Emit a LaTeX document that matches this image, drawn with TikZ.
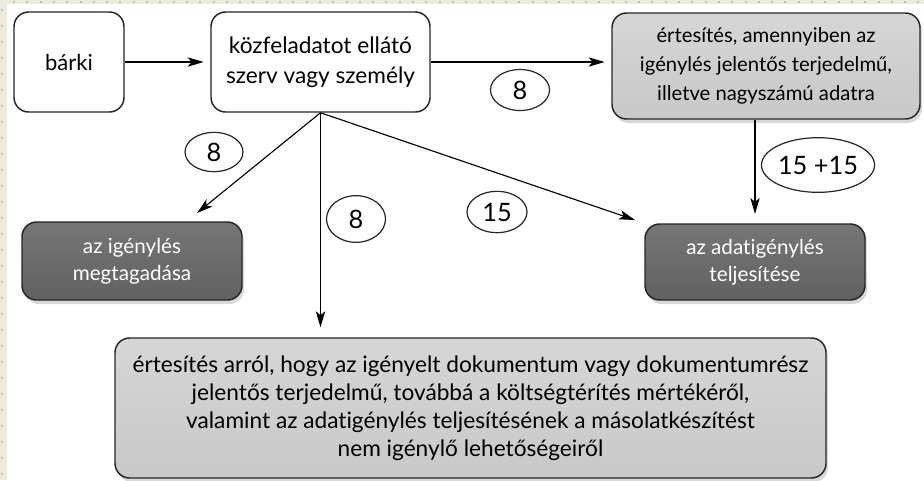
\documentclass[tikz,border=0pt]{standalone}
\usepackage{fontspec}
\setmainfont{Lato}[Ligatures={NoCommon}]
\usetikzlibrary{arrows.meta,shapes.geometric,shadows,calc}
\definecolor{bgbeige}{HTML}{EDEADF}
\definecolor{dotc}{HTML}{C8C0A2}
\definecolor{lighttop}{HTML}{D6D6D6}
\definecolor{lightbot}{HTML}{C8C8C8}
\definecolor{darktop}{HTML}{767676}
\definecolor{darkbot}{HTML}{616161}
\begin{document}
\begin{tikzpicture}[x=0.75pt,y=-0.75pt,
  box/.style={draw=black!85, line width=1.1pt, rounded corners=11pt, align=center, inner sep=0pt, font=\fontsize{15.5}{20}\selectfont},
  whitebox/.style={box, fill=white},
  lightbox/.style={box, top color=lighttop, bottom color=lightbot, drop shadow={opacity=0.3, shadow xshift=1.5pt, shadow yshift=-3pt}},
  darkbox/.style={box, top color=darktop, bottom color=darkbot, text=white, drop shadow={opacity=0.3, shadow xshift=1.5pt, shadow yshift=-3pt}},
  num/.style={ellipse, draw=black!85, fill=white, line width=0.9pt, inner sep=0pt, font=\fontsize{19}{20}\selectfont},
  arr/.style={-{Stealth[length=12pt,width=7pt,inset=3pt]}, line width=0.85pt}]
\useasboundingbox (0,0) rectangle (924,480);
\fill[bgbeige] (0,0) rectangle (924,480);
\foreach \i in {0,...,68} \fill[dotc] (14+13.3*\i-1,1) rectangle ++(2,2);
\foreach \j in {0,...,29} \fill[dotc] (1,10+16*\j-1) rectangle ++(2,2);
\fill[white] (7,4) rectangle (924,480);

\node[whitebox, minimum width=82.5pt, minimum height=75pt, font=\fontsize{16.5}{20}\selectfont] (barki) at (69,62) {bárki};
\node[whitebox, minimum width=164.25pt, minimum height=75pt, font=\fontsize{17}{22.5}\selectfont] (kozf) at (320.5,62) {közfeladatot ellátó\\szerv vagy személy};
\node[lightbox, minimum width=231pt, minimum height=79.5pt, font=\fontsize{15.2}{21.5}\selectfont] (ert) at (766,66) {értesítés, amennyiben az\\igénylés jelentős terjedelmű,\\illetve nagyszámú adatra};
\node[darkbox, minimum width=165pt, minimum height=57pt] (telj) at (755,262) {az adatigénylés\\teljesítése};
\node[darkbox, minimum width=165pt, minimum height=58.5pt] (megt) at (132,261) {az igénylés\\megtagadása};
\node[lightbox, minimum width=533.25pt, minimum height=105pt, font=\fontsize{17}{21}\selectfont] (bot) at (470.5,408) {értesítés arról, hogy az igényelt dokumentum vagy dokumentumrész\\jelentős terjedelmű, továbbá a költségtérítés mértékéről,\\valamint az adatigénylés teljesítésének a másolatkészítést\\nem igénylő lehetőségeiről};

\coordinate (tipA) at (197,213);
\coordinate (tipB) at (635,220);
\draw[arr, shorten >=5pt] (barki) -- (kozf);
\draw[arr, shorten >=5pt] (kozf.east) -- (kozf.east -| ert.west);
\draw[arr] (kozf.south) -- (tipA);
\draw[arr, shorten >=7.5pt] (kozf.south) -- (kozf.south |- bot.north);
\draw[arr] (kozf.south) -- (tipB);
\draw[arr, shorten >=7pt] (ert.south -| telj.north) -- (telj.north);

\node[num, minimum width=44.25pt, minimum height=30.75pt] (n1) at (520,90) {8};
\node[num, minimum width=72pt, minimum height=41pt] (n2) at (818,165) {15 +15};
\node[num, minimum width=43.5pt, minimum height=29.5pt] (n3) at (214,152) {8};
\node[num, minimum width=44.25pt, minimum height=35pt] (n4) at (356,219) {8};
\node[num, minimum width=45pt, minimum height=31pt] (n5) at (497,212) {15};
\end{tikzpicture}
\end{document}
